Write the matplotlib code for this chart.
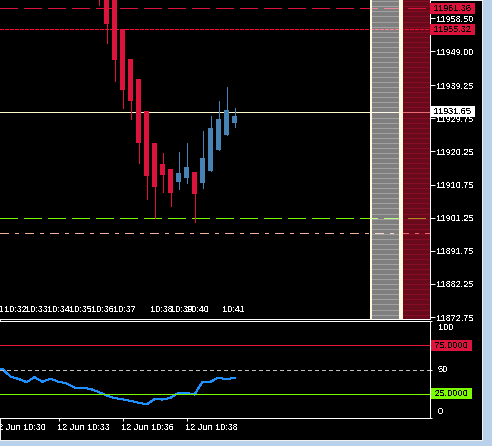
import matplotlib
matplotlib.use('Agg')
import matplotlib.pyplot as plt
import matplotlib.transforms as mtransforms
from matplotlib.patches import Rectangle
import numpy as np

plt.rcParams['font.family'] = ['Liberation Sans', 'DejaVu Sans']
plt.rcParams['text.antialiased'] = False
plt.rcParams['lines.antialiased'] = False
plt.rcParams['patch.antialiased'] = False
plt.rcParams['lines.scale_dashes'] = False

# ---------------- data ----------------
bar_idx = list(range(18))
opens  = [11975.00, 11966.00, 11965.00, 11955.40, 11946.79, 11941.05, 11931.87, 11922.68, 11916.66,
          11915.22, 11911.49, 11912.64, 11914.36, 11911.29, 11914.65, 11920.68, 11924.98, 11928.42]
highs  = [11980.00, 11968.00, 11967.00, 11955.40, 11946.79, 11941.05, 11931.87, 11922.68, 11919.82,
          11915.22, 11920.10, 11922.68, 11914.36, 11926.13, 11930.43, 11934.74, 11938.75, 11932.73]
lows   = [11962.28, 11951.29, 11940.56, 11932.81, 11929.49, 11916.86, 11906.53, 11901.30, 11908.62,
          11904.61, 11909.49, 11911.21, 11900.02, 11909.86, 11914.65, 11920.68, 11924.98, 11927.28]
closes = [11966.50, 11956.92, 11946.59, 11937.98, 11934.82, 11922.77, 11913.30, 11910.15, 11913.50,
          11908.34, 11914.08, 11915.80, 11908.05, 11918.38, 11926.99, 11929.57, 11932.15, 11930.43]

level_upper_stop = 11961.36
level_upper_entry = 11955.32
level_last = 11931.65
level_green = 11901.10
level_dashdot = 11896.77

price_ticks = [11958.50, 11949.00, 11939.25, 11929.75, 11920.25, 11910.75, 11901.25, 11891.75, 11882.25, 11872.75]

time_labels = ['10:31', '10:32', '10:33', '10:34', '10:35', '10:36', '10:37', '10:38', '10:39', '10:40', '10:41']
time_label_bars = [-14.69, -11.81, -9.19, -6.44, -3.69, -0.94, 1.81, 6.44, 8.94, 10.94, 15.44]

zone_edges = [34.06, 37.75, 41.44]   # grey zone / red zone (bar units)

osc_bars = list(range(-13, 18))
osc_vals = [52.0, 50.5, 42.6, 40.3, 37.0, 42.0, 37.4, 40.5, 37.4, 35.6, 31.3, 31.1, 30.0, 26.8, 23.2,
            20.5, 19.3, 17.7, 15.8, 14.0, 19.5, 19.0, 20.8, 26.0, 26.0, 24.2, 37.4, 37.4, 41.6, 39.8, 41.6]
osc_ticks = [0, 50, 100]
osc_tick_labels = ['0', '50', '100']
sub_time_bars = [-13, -5, 3, 11]
sub_time_labels = ['12 Jun 10:30', '12 Jun 10:33', '12 Jun 10:36', '12 Jun 10:38']

# ---------------- layout ----------------
W, H, DPI = 492, 446, 100
PX = 72.0 / DPI
FS = 6.6
fig = plt.figure(figsize=(W / DPI, H / DPI), dpi=DPI, facecolor='#b9d1ea')
fig.patches.append(Rectangle((0, 1 - 440 / H), 482 / W, 440 / H, transform=fig.transFigure,
                             facecolor='black', edgecolor='#f0f0f0', lw=1 * PX, zorder=-5))

def px_axes(x0, y0, x1, y1):
    return fig.add_axes([x0 / W, 1 - y1 / H, (x1 - x0) / W, (y1 - y0) / H])

def px_shift(dx, dy):
    return mtransforms.ScaledTranslation(dx / DPI, -dy / DPI, fig.dpi_scale_trans)

ax = px_axes(0, 0, 430, 319)
sx = px_axes(0, 321, 430, 418)
for a in (ax, sx):
    a.set_facecolor('black')
    for s in a.spines.values():
        s.set_color('white')
        s.set_linewidth(1 * PX)
ax.spines['top'].set_visible(False)
ax.spines['left'].set_visible(False)
sx.spines['left'].set_visible(False)

xmin, xmax = -12.3125, 41.4375
pmin, pmax = 11872.18, 11963.72

lw1 = 1 * PX
# ---- horizontal levels (under zones) ----
ax.axhline(level_upper_stop, color='#dc143c', lw=lw1, dashes=(18 * PX, 6 * PX), zorder=2)
ax.axhline(level_upper_entry, color='#ff0a32', lw=lw1, dashes=(3 * PX, 2 * PX), zorder=2)
ax.axhline(level_last, color='#fffacd', lw=lw1, zorder=2)
ax.axhline(level_green, color='#7cfc00', lw=lw1, dashes=(18 * PX, 6 * PX), zorder=2)
ax.axhline(level_dashdot, color='#f4b09a', lw=lw1, dashes=(9 * PX, 6 * PX, 3 * PX, 6 * PX), zorder=2)

# ---- zones ----
ax.axvspan(zone_edges[0], zone_edges[1], color='white', alpha=0.5, lw=0, zorder=3)
ax.axvspan(zone_edges[1], zone_edges[2], color='#dc143c', alpha=0.48, lw=0, zorder=3)
stripes = np.arange(11872.0, 11964.0, 1.45)
ax.hlines(stripes, zone_edges[0], zone_edges[1], color='white', alpha=0.28, lw=lw1, zorder=4)
ax.hlines(stripes, zone_edges[1], zone_edges[2], color='#dc143c', alpha=0.28, lw=lw1, zorder=4)
ax.axvline(zone_edges[0], color='#fff8dc', lw=2 * PX, zorder=5)
ax.axvline(zone_edges[1], color='#fff8dc', lw=2.5 * PX, zorder=5)

# ---- candles ----
for i, o, h, l, c in zip(bar_idx, opens, highs, lows, closes):
    col = '#dc143c' if c < o else '#4682b4'
    ax.vlines(i, l, h, color=col, lw=lw1, zorder=6)
    ax.bar(i, abs(c - o), bottom=min(o, c), width=0.625, color=col, lw=0, zorder=7)

# ---- price axis ----
ax.yaxis.tick_right()
ax.set_yticks(price_ticks)
ax.set_yticklabels(['%.2f' % p for p in price_ticks])
ax.tick_params(axis='y', colors='white', labelsize=FS, length=4.5 * PX, width=lw1, pad=2 * PX)
ax.set_xticks([])
ax.set_xlim(xmin, xmax)
ax.set_ylim(pmin, pmax)

trans = mtransforms.blended_transform_factory(ax.transAxes, ax.transData)
box_kw = dict(boxstyle='square,pad=0.12', ec='none')
ax.text(1.0025, level_upper_stop, ' 11961.36 ', transform=trans, fontsize=FS, color='black',
        va='center', ha='left', bbox=dict(fc='#dc143c', **box_kw), clip_on=False, zorder=20)
ax.text(1.0025, level_upper_entry, ' 11955.32 ', transform=trans, fontsize=FS, color='black',
        va='center', ha='left', bbox=dict(fc='#dc143c', **box_kw), clip_on=False, zorder=20)
ax.text(1.0025, level_last, ' 11931.65 ', transform=trans, fontsize=FS, color='black',
        va='center', ha='left', bbox=dict(fc='white', **box_kw), clip_on=False, zorder=20)

# ---- time labels in main window ----
ttrans = mtransforms.blended_transform_factory(ax.transData, ax.transAxes)
for b, lab in zip(time_label_bars, time_labels):
    ax.text(b, 9.0 / 319, lab, transform=ttrans, fontsize=FS, color='white',
            ha='left', va='center', zorder=30)

# ---------------- sub window ----------------
sx.plot(osc_bars, osc_vals, color='#1e90ff', lw=lw1, zorder=3)
sx.axhline(75, color='#e8143c', lw=lw1, zorder=4)
sx.axhline(50, color='#c0c0c0', lw=lw1, dashes=(3 * PX, 3 * PX), zorder=4)
sx.axhline(25, color='#7cfc00', lw=lw1, zorder=4)

sx.yaxis.tick_right()
sx.set_yticks(osc_ticks)
sx.set_yticklabels([])
sx.tick_params(axis='y', colors='white', length=2 * PX, width=lw1)
sx.set_xticks(sub_time_bars)
sx.set_xticklabels([])
sx.tick_params(axis='x', colors='white', length=3 * PX, width=lw1)
sx.set_xlim(xmin, xmax)
sx.set_ylim(0, 100)

strans = mtransforms.blended_transform_factory(sx.transAxes, sx.transData)
osc_label_dy = [-6, 0, 6]   # MT4 pulls the end labels inward
for v, lab, dy in zip(osc_ticks, osc_tick_labels, osc_label_dy):
    sx.text(1.0, v, lab, transform=strans + px_shift(8, dy), fontsize=FS, color='white',
            ha='left', va='center', clip_on=False, zorder=20)

xtrans = mtransforms.blended_transform_factory(sx.transData, sx.transAxes)
for b, lab in zip(sub_time_bars, sub_time_labels):
    sx.text(b, 0, lab, transform=xtrans + px_shift(-1.5, 9), fontsize=FS, color='white',
            ha='left', va='center', clip_on=False, zorder=20)

sx.text(1.005, 75, ' 75.0000 ', transform=strans, fontsize=FS, color='black', va='center', ha='left',
        bbox=dict(fc='#dc143c', **box_kw), clip_on=False, zorder=20)
sx.text(1.005, 25, ' 25.0000 ', transform=strans, fontsize=FS, color='black', va='center', ha='left',
        bbox=dict(fc='#7cfc00', **box_kw), clip_on=False, zorder=20)

fig.savefig('out.png', dpi=DPI, facecolor=fig.get_facecolor())
